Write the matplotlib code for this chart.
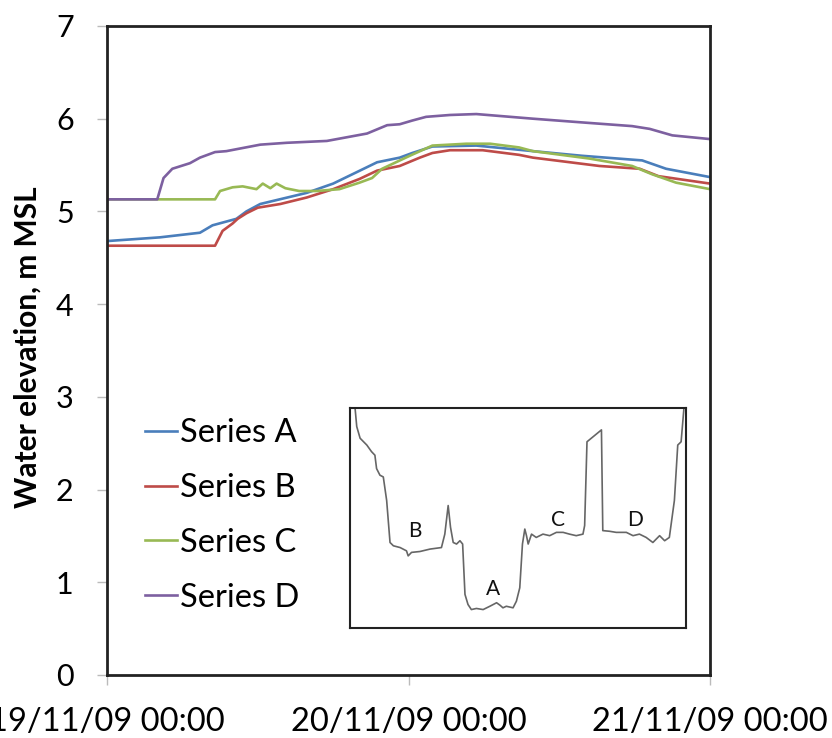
import matplotlib
matplotlib.use("Agg")
import matplotlib.pyplot as plt

plt.rcParams['font.family'] = ['Lato', 'DejaVu Sans']

# time in hours from 19/11/09 00:00
hours_a = [0, 4.2, 7.4, 8.4, 10.3, 11.1, 12.2, 15.9, 18.0, 21.5, 23.3, 24.3, 25.9, 29.4, 33.9, 37.8, 42.6, 44.5, 48]
vals_a = [4.68, 4.72, 4.77, 4.85, 4.92, 5.00, 5.08, 5.20, 5.30, 5.53, 5.58, 5.63, 5.70, 5.71, 5.65, 5.60, 5.55, 5.46, 5.37]

hours_b = [0, 8.6, 9.2, 10.0, 10.4, 11.1, 12.0, 13.8, 15.9, 18.0, 20.1, 21.5, 23.3, 24.9, 25.9, 27.3, 29.9, 32.8, 33.9, 39.2, 42.4, 43.9, 48]
vals_b = [4.63, 4.63, 4.79, 4.87, 4.92, 4.98, 5.04, 5.08, 5.15, 5.24, 5.35, 5.44, 5.49, 5.58, 5.63, 5.66, 5.66, 5.61, 5.58, 5.49, 5.46, 5.38, 5.30]

hours_c = [0, 8.6, 9.0, 10.0, 10.8, 11.9, 12.4, 13.0, 13.5, 14.2, 15.3, 16.7, 18.5, 20.1, 21.1, 21.9, 24.1, 25.9, 28.6, 30.5, 32.8, 33.9, 38.4, 41.8, 43.4, 45.3, 48]
vals_c = [5.13, 5.13, 5.22, 5.26, 5.27, 5.24, 5.30, 5.25, 5.30, 5.25, 5.22, 5.22, 5.24, 5.31, 5.36, 5.46, 5.60, 5.71, 5.73, 5.73, 5.69, 5.65, 5.57, 5.49, 5.40, 5.31, 5.24]

hours_d = [0, 4.0, 4.5, 5.2, 6.6, 7.4, 8.6, 9.5, 12.2, 14.3, 17.5, 20.7, 22.3, 23.3, 24.3, 25.4, 27.3, 29.4, 31.2, 33.9, 37.8, 41.8, 43.2, 45, 48]
vals_d = [5.13, 5.13, 5.36, 5.46, 5.52, 5.58, 5.64, 5.65, 5.72, 5.74, 5.76, 5.84, 5.93, 5.94, 5.98, 6.02, 6.04, 6.05, 6.03, 6.00, 5.96, 5.92, 5.89, 5.82, 5.78]

series_names = ['Series A', 'Series B', 'Series C', 'Series D']
tick_hours = [0, 24, 48]
tick_labels = ['19/11/09 00:00', '20/11/09 00:00', '21/11/09 00:00']

# inset sketch (profile trace, 0-100 in both directions)
inset_u = [1.5, 2.0, 3.0, 5.0, 6.4, 7.4, 7.9, 8.9, 9.9, 10.9, 11.9, 12.9, 14.9, 16.8, 17.3, 18.3, 20.8, 23.8,
           27.2, 28.2, 29.2, 29.9, 30.7, 31.7, 32.7, 33.5, 34.2, 35.1, 36.1, 37.6, 39.6, 41.6, 43.6, 44.6,
           45.5, 46.5, 48.5, 49.5, 50.5, 51.3, 52.0, 52.5, 53.0, 54.0, 55.4, 57.4, 59.4, 61.4, 63.4, 65.3,
           67.3, 69.3, 69.8, 70.5, 74.8, 75.2, 77.2, 79.2, 82.2, 84.2, 86.1, 88.1, 90.1, 92.1, 93.6, 95.0,
           96.5, 97.5, 98.5, 99.3]
inset_v = [100, 91.6, 86.3, 83.2, 80.2, 78.6, 72.5, 69.5, 68.7, 58.0, 38.9, 37.4, 36.6, 35.1, 32.8, 34.4, 34.8, 35.9,
           36.6, 42.7, 55.7, 45.8, 38.9, 38.2, 39.7, 38.2, 15.3, 10.7, 8.4, 8.9, 8.4, 9.9, 11.5, 10.4,
           9.2, 9.9, 9.2, 12.2, 18.3, 38.2, 45.0, 42.0, 38.2, 42.7, 41.2, 42.7, 42.0, 43.5, 43.5, 42.7,
           42.0, 42.7, 46.6, 84.7, 90.1, 44.3, 44.0, 43.5, 43.5, 42.0, 42.7, 41.2, 38.9, 42.0, 39.7, 41.2,
           58.0, 83.2, 84.7, 99.2]
inset_letters = ['B', 'A', 'C', 'D']
inset_letter_u = [19.3, 42.4, 61.9, 84.9]
inset_letter_v = [44.3, 17.6, 48.9, 48.9]

colors = ['#4A7EBB', '#BE4B48', '#98B954', '#7D60A0']

fig = plt.figure(figsize=(8.32, 7.38), dpi=100)
ax = fig.add_axes([0.1286, 0.0854, 0.7248, 0.8794])

for h, v, c, n in zip([hours_a, hours_b, hours_c, hours_d],
                      [vals_a, vals_b, vals_c, vals_d], colors, series_names):
    ax.plot(h, v, color=c, lw=1.9, label=n)

ax.set_xlim(0, 48)
ax.set_ylim(0, 7)
ax.set_yticks(range(0, 8))
ax.set_xticks(tick_hours)
ax.set_xticklabels(tick_labels)
for s in ax.spines.values():
    s.set_linewidth(2)
    s.set_color('#222222')
ax.tick_params(axis='both', direction='out', length=7, width=1, color='#BBBBBB', labelsize=22)
ax.tick_params(axis='x', labelsize=23.5, pad=16)
ax.tick_params(axis='y', pad=17)

ax.set_ylabel('Water elevation, m MSL', fontsize=21.5, fontweight='bold')
ax.yaxis.set_label_coords(-0.108, 0.505)

leg = ax.legend(loc='upper left', bbox_to_anchor=(0.063, 0.396), frameon=False, fontsize=23.5,
                handlelength=0.98, handletextpad=0.1, labelspacing=0.765, borderpad=0, borderaxespad=0)

ins = fig.add_axes([0.4207, 0.149, 0.404, 0.298])
ins.plot(inset_u, inset_v, color='#666666', lw=1.2)
for t, u, v in zip(inset_letters, inset_letter_u, inset_letter_v):
    ins.text(u, v, t, fontsize=15, ha='center', va='center', color='#111111')
ins.set_xlim(0, 100)
ins.set_ylim(0, 100)
ins.set_xticks([])
ins.set_yticks([])
for s in ins.spines.values():
    s.set_linewidth(1.5)
    s.set_color('#222222')

fig.savefig('out.png', dpi=100)
